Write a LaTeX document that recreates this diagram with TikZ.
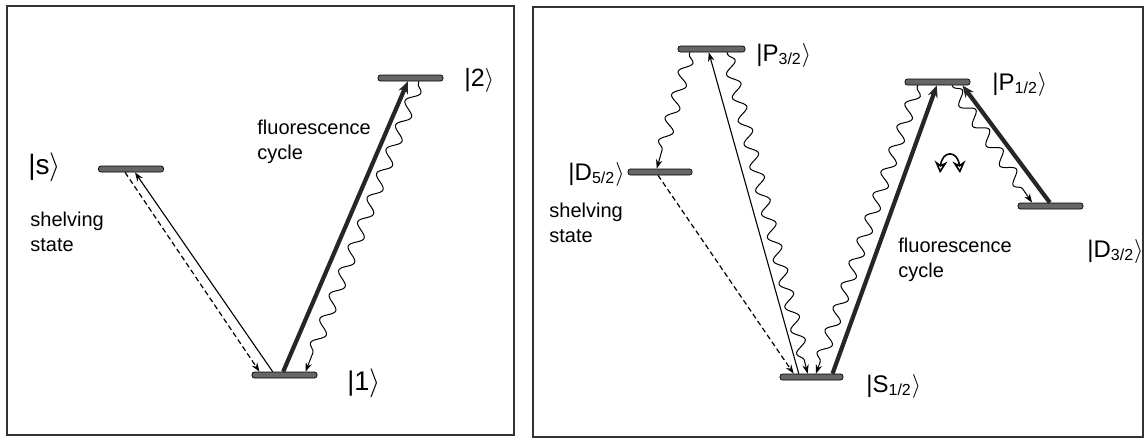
\documentclass[tikz,border=0pt]{standalone}
\usepackage{fontspec}
\setmainfont{Liberation Sans}
\usetikzlibrary{arrows.meta,decorations.pathmorphing,calc}

\newcommand{\ketlbl}[1]{|#1$\rangle$}

\begin{document}
\begin{tikzpicture}[x=0.5pt, y=-0.5pt,
    frame/.style={draw=black!80, line width=0.7pt},
    level/.style={draw=black, fill=black!60, line width=0.35pt, rounded corners=1.2pt,
      minimum height=3pt, minimum width=32.5pt, inner sep=0pt},
    ket/.style={font=\fontsize{12}{13}\selectfont, inner sep=1pt},
    txt/.style={font=\fontsize{10}{12.5}\selectfont, align=left, inner sep=0pt},
    thin arr/.style={line width=0.55pt, -{Stealth[length=4.5pt,width=3.2pt]}},
    thick arr/.style={line width=2.1pt, draw=black!85, -{Stealth[length=6pt,width=5pt]}},
    dash arr/.style={line width=0.6pt, dash pattern=on 2.6pt off 1.6pt, -{Stealth[length=4.5pt,width=3.2pt]}},
    wavy/.style={line width=0.5pt, -{Stealth[length=4.5pt,width=3.2pt]}, decorate,
      decoration={snake, amplitude=3pt, segment length=13pt, pre length=1pt, post length=4pt}}]
    \useasboundingbox (0,0) rectangle (1145,440);

    % Frames
    \draw[frame] (7,6) rectangle (514,435);
    \draw[frame] (533,7) rectangle (1143,437);

    % Left: levels
    \node[level] (lvl2) at (410.5,78) {};
    \node[level] (lvls) at (131,169) {};
    \node[level] (lvl1) at (284.5,375) {};

    % Left: labels
    \node[ket, anchor=west, font=\fontsize{12.5}{13}\selectfont] (lbl2) at (462,80) {\ketlbl{2}};
    \node[ket, anchor=west, font=\fontsize{14}{15}\selectfont] (lbls) at (26,167) {\ketlbl{s}};
    \node[ket, anchor=west, font=\fontsize{13.5}{14}\selectfont] (lbl1) at (345,383) {\ketlbl{1}};
    \node[txt, anchor=west] (fluoL) at (257,142) {fluorescence\\cycle};
    \node[txt, anchor=west] (shelfL) at (30,232) {shelving\\state};

    % Left: transitions
    \draw[thin arr] ($(lvl1.north west)!0.32!(lvl1.north east)$) -- ($(lvls.south west)!0.56!(lvls.south east)$);
    \draw[dash arr] ($(lvls.south west)!0.41!(lvls.south east)$) -- ($(lvl1.north west)!0.12!(lvl1.north east)$);
    \draw[thick arr] ($(lvl1.north west)!0.48!(lvl1.north east)$) -- ($(lvl2.south west)!0.46!(lvl2.south east)$);
    \draw[wavy] ($(lvl2.south west)!0.63!(lvl2.south east)$) -- ($(lvl1.north west)!0.82!(lvl1.north east)$);

    % Right: levels
    \node[level, minimum width=33.5pt] (P32) at (711.5,49) {};
    \node[level, minimum width=32pt] (D52) at (660,172) {};
    \node[level, minimum width=31.5pt] (S12) at (811.5,377) {};
    \node[level] (P12) at (937.5,82) {};
    \node[level] (D32) at (1050.5,206) {};

    % Right: labels
    \node[ket, anchor=west] (lblP32) at (754,55) {\ketlbl{P\textsubscript{3/2}}};
    \node[ket, anchor=east] (lblD52) at (627,174) {\ketlbl{D\textsubscript{5/2}}};
    \node[ket, anchor=west] (lblS12) at (864,386) {\ketlbl{S\textsubscript{1/2}}};
    \node[ket, anchor=west] (lblP12) at (990,84) {\ketlbl{P\textsubscript{1/2}}};
    \node[ket, anchor=west] (lblD32) at (1085,251) {\ketlbl{D\textsubscript{3/2}}};
    \node[txt, anchor=west] (shelfR) at (549,223) {shelving\\state};
    \node[txt, anchor=west] (fluoR) at (898,260) {fluorescence\\cycle};

    % Right: transitions
    \draw[thin arr] ($(S12.north west)!0.30!(S12.north east)$) -- ($(P32.south west)!0.46!(P32.south east)$);
    \draw[wavy, decoration={segment length=12pt}] ($(P32.south west)!0.18!(P32.south east)$) -- ($(D52.north west)!0.45!(D52.north east)$);
    \draw[wavy, decoration={segment length=12pt}] ($(P32.south west)!0.73!(P32.south east)$) -- ($(S12.north west)!0.44!(S12.north east)$);
    \draw[dash arr] ($(D52.south west)!0.47!(D52.south east)$) -- ($(S12.north west)!0.22!(S12.north east)$);
    \draw[wavy, decoration={segment length=12pt}] ($(P12.south west)!0.20!(P12.south east)$) -- ($(S12.north west)!0.57!(S12.north east)$);
    \draw[thick arr] ($(S12.north west)!0.83!(S12.north east)$) -- ($(P12.south west)!0.49!(P12.south east)$);
    \draw[thick arr] ($(D32.north west)!0.49!(D32.north east)$) -- ($(P12.south west)!0.88!(P12.south east)$);
    \draw[wavy, decoration={segment length=12pt}] ($(P12.south west)!0.72!(P12.south east)$) -- ($(D32.north west)!0.22!(D32.north east)$);

    % Cycle symbol
    \draw[line width=0.8pt, {Stealth[open,length=6pt,width=6.5pt]}-{Stealth[open,length=6pt,width=6.5pt]}]
      (940,173) .. controls (942,150) and (958,150) .. (960,173);
\end{tikzpicture}
\end{document}
